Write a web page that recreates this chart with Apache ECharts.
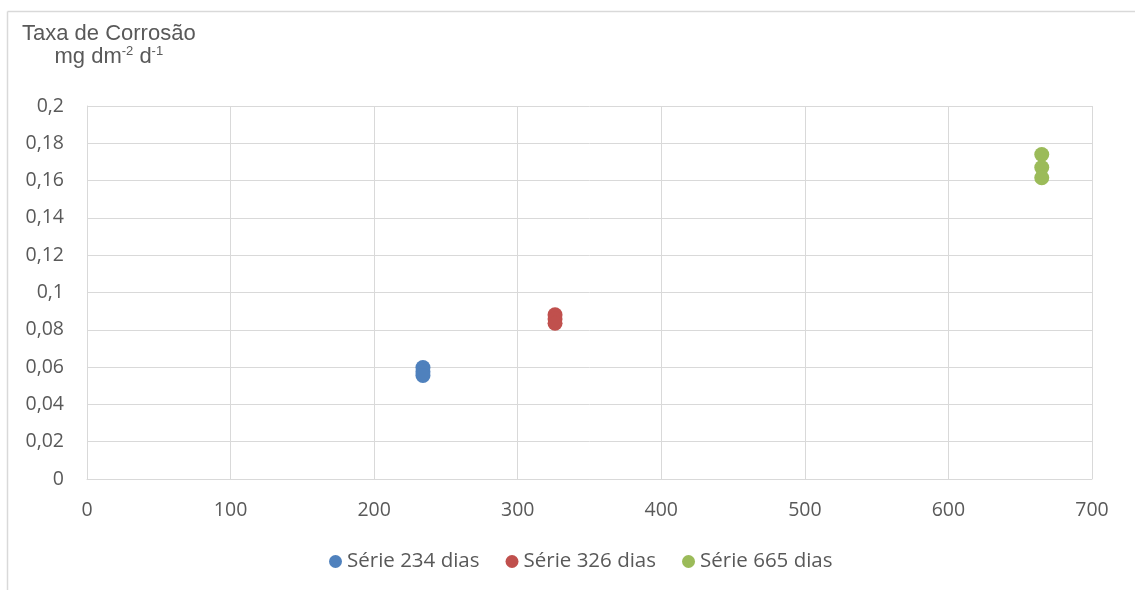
<!DOCTYPE html>
<html>
<head>
<meta charset="utf-8">
<script src="https://cdn.jsdelivr.net/npm/echarts@6/dist/echarts.min.js"></script>
<style>html,body{margin:0;padding:0;background:#fff}#c{width:1135px;height:590px}</style>
</head>
<body>
<div id="c"></div>
<script>
const seriesNames = ['Série 234 dias', 'Série 326 dias', 'Série 665 dias'];
const seriesDays = [234, 326, 665];
const serie234 = [0.0598, 0.0575, 0.0555];
const serie326 = [0.0881, 0.0858, 0.0835];
const serie665 = [0.1740, 0.1670, 0.1615];
const colors = ['#4F81BD', '#C0504D', '#9BBB59'];
const xMin = 0, xMax = 700, xStep = 100;
const yMin = 0, yMax = 0.2, yStep = 0.02;

const allValues = [serie234, serie326, serie665];
const chart = echarts.init(document.getElementById('c'), null, {renderer: 'canvas'});
const txt = '#595959';
const grid = '#D9D9D9';
const font = '"Open Sans", "Liberation Sans", sans-serif';
const tfont = '"Liberation Sans", Arial, sans-serif';

chart.setOption({
  animation: false,
  backgroundColor: '#fff',
  title: {
    left: 17, top: 17,
    text: '{a|Taxa de Corrosão}\n{b|mg dm}{s|-2}{b| d}{s|-1}',
    textStyle: {
      fontWeight: 'normal',
      align: 'center',
      rich: {
        a: {fontFamily: tfont, fontSize: 22, fontWeight: 'normal', color: txt, lineHeight: 23, align: 'center'},
        b: {fontFamily: tfont, fontSize: 22, fontWeight: 'normal', color: txt, lineHeight: 23, align: 'center'},
        s: {fontFamily: tfont, fontSize: 13, fontWeight: 'normal', color: txt, lineHeight: 23, verticalAlign: 'top', align: 'center'}
      }
    }
  },
  graphic: [
    {type: 'line', shape: {x1: 7.5, y1: 11.5, x2: 1135, y2: 11.5}, style: {stroke: grid, lineWidth: 1.5}},
    {type: 'line', shape: {x1: 7.5, y1: 11.5, x2: 7.5, y2: 590}, style: {stroke: grid, lineWidth: 1.5}}
  ],
  grid: {left: 87, right: 43, top: 106, bottom: 111},
  legend: {
    bottom: 13, left: 324,
    icon: 'circle', itemWidth: 13, itemHeight: 13, itemGap: 26,
    textStyle: {fontFamily: font, fontSize: 20.5, color: txt, padding: [0,0,0,0]},
    data: seriesNames
  },
  xAxis: {
    type: 'value', min: xMin, max: xMax, interval: xStep,
    axisLine: {show: true, lineStyle: {color: grid}},
    axisTick: {show: false},
    splitLine: {show: true, lineStyle: {color: grid}},
    axisLabel: {color: txt, fontFamily: font, fontSize: 19.5, margin: 21}
  },
  yAxis: {
    type: 'value', min: yMin, max: yMax, interval: yStep,
    axisLine: {show: true, lineStyle: {color: grid}},
    axisTick: {show: false},
    splitLine: {show: true, lineStyle: {color: grid}},
    axisLabel: {color: txt, fontFamily: font, fontSize: 19.5, margin: 23,
      formatter: v => String(+v.toFixed(2)).replace('.', ',')}
  },
  series: seriesNames.map((name, i) => ({
    name: name,
    type: 'scatter',
    symbol: 'circle',
    symbolSize: 15,
    itemStyle: {color: colors[i], opacity: 1},
    data: allValues[i].map(v => [seriesDays[i], v])
  }))
});
</script>
</body>
</html>
